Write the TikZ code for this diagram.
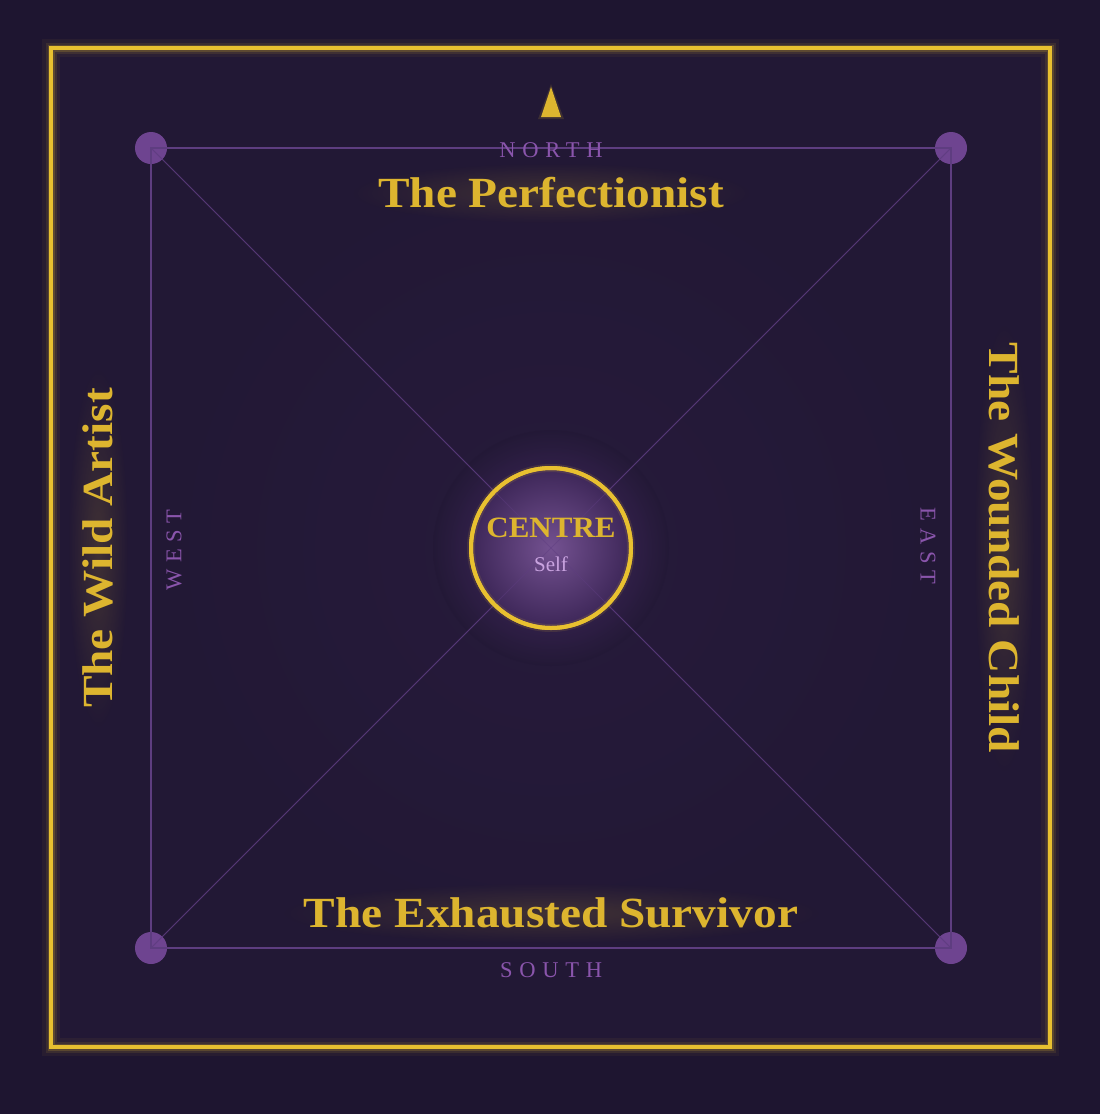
\documentclass[tikz,border=0pt]{standalone}
\usepackage{fontspec}
\setmainfont{Liberation Serif}
\newfontfamily\spaced[LetterSpace=30]{Liberation Serif}
\usetikzlibrary{calc,fadings}
\tikzfading[name=softglow, inner color=transparent!0, outer color=transparent!100]
\definecolor{bgdark}{HTML}{1E1530}
\definecolor{bginner}{HTML}{221835}
\definecolor{bgmid}{HTML}{2A1D40}
\definecolor{gold}{HTML}{DDB52F}
\definecolor{framegold}{HTML}{E8C030}
\definecolor{lineviolet}{HTML}{5E3D80}
\definecolor{dotviolet}{HTML}{77499A}
\definecolor{labelviolet}{HTML}{8A55AC}
\definecolor{selfviolet}{HTML}{C9A3E0}
\definecolor{glowviolet}{HTML}{6A3D90}
\tikzset{
  cornerdot/.style={circle, fill=dotviolet, minimum size=32pt, inner sep=0pt, fill opacity=0.9},
  gridline/.style={draw=lineviolet, line width=1.2pt},
  diagline/.style={draw=lineviolet, line width=1pt, opacity=0.75},
  archetype/.style={text=gold, font=\fontsize{43}{48}\selectfont\bfseries, inner sep=0pt},
  halo/.style={fill=gold, opacity=0.16, path fading=softglow},
  dirlabel/.style={text=labelviolet, font=\fontsize{22.5}{26}\selectfont\spaced, inner sep=0pt},
}
\newcommand{\widetext}[1]{\scalebox{1.1}[1]{#1}}
\begin{document}
\begin{tikzpicture}[x=1pt,y=1pt]
  % background
  \fill[bgdark] (0,0) rectangle (1100,-1114);
  \useasboundingbox (0,0) rectangle (1100,-1114);
  \fill[bginner] (51,-48) rectangle (1050,-1047);
  \shade[inner color=bgmid, outer color=bginner, opacity=0.6] (551,-548) circle (420);
  % frame glow
  \draw[framegold, line width=18pt, opacity=0.05] (51,-48) rectangle (1050,-1047);
  \draw[framegold, line width=11pt, opacity=0.10] (51,-48) rectangle (1050,-1047);
  \draw[framegold, line width=7pt, opacity=0.18] (51,-48) rectangle (1050,-1047);
  \draw[framegold, line width=4pt] (51,-48) rectangle (1050,-1047);

  % corner dots
  \node[cornerdot] (nw) at (151,-148) {};
  \node[cornerdot] (ne) at (951,-148) {};
  \node[cornerdot] (sw) at (151,-948) {};
  \node[cornerdot] (se) at (951,-948) {};

  % central glow
  \shade[inner color=glowviolet, outer color=bginner, opacity=0.55] (551,-548) circle (118);

  % square and diagonals
  \draw[gridline] (nw.center) -- (ne.center) -- (se.center) -- (sw.center) -- cycle;
  \draw[diagline] (nw.center) -- (se.center);
  \draw[diagline] (ne.center) -- (sw.center);

  % centre circle
  \node[circle, minimum size=160pt, inner sep=0pt, draw=framegold, line width=4pt,
        inner color=glowviolet!85!white!90!black, outer color=bgmid!70!glowviolet] (centre) at (551,-548) {};
  \draw[diagline, opacity=0.45] (nw.center) -- (se.center);
  \draw[diagline, opacity=0.45] (ne.center) -- (sw.center);
  \draw[framegold, line width=4pt] (centre) circle (80);
  \draw[framegold, line width=8pt, opacity=0.12] (centre) circle (80);
  \node[text=gold, font=\fontsize{29.5}{32}\selectfont\bfseries, inner sep=0pt] (centretxt) at (551,-528) {\scalebox{1.05}[1]{CENTRE}};
  \node[text=selfviolet, font=\fontsize{21}{24}\selectfont, inner sep=0pt] (selftxt) at (551,-564) {Self};

  % north arrow
  \coordinate (apex) at (551,-87);
  \coordinate (bl) at (541,-117);
  \coordinate (br) at (561,-117);
  \fill[gold, opacity=0.15] ($(apex)+(0,3)$) -- ($(bl)+(-3,-2)$) -- ($(br)+(3,-2)$) -- cycle;
  \fill[gold] (apex) -- (bl) -- (br) -- cycle;

  % direction labels
  \node[dirlabel] (north) at (551,-150) {NORTH};
  \node[dirlabel] (south) at (551,-970) {SOUTH};
  \node[dirlabel, rotate=90] (west) at (174,-550) {WEST};
  \node[dirlabel, rotate=-90] (east) at (928,-546) {EAST};

  % halos behind archetype names
  \fill[halo] (551,-193) ellipse (200 and 30);
  \fill[halo] (551,-913) ellipse (270 and 30);
  \fill[halo] (98,-548) ellipse (30 and 180);
  \fill[halo] (1004,-548) ellipse (30 and 225);

  % archetypes
  \node[archetype] (perf) at (551,-193) {\widetext{The Perfectionist}};
  \node[archetype] (surv) at (551,-913) {\widetext{The Exhausted Survivor}};
  \node[archetype, rotate=90] (wild) at (98,-548) {\widetext{The Wild Artist}};
  \node[archetype, rotate=-90] (wound) at (1004,-548) {\widetext{The Wounded Child}};
\end{tikzpicture}
\end{document}
